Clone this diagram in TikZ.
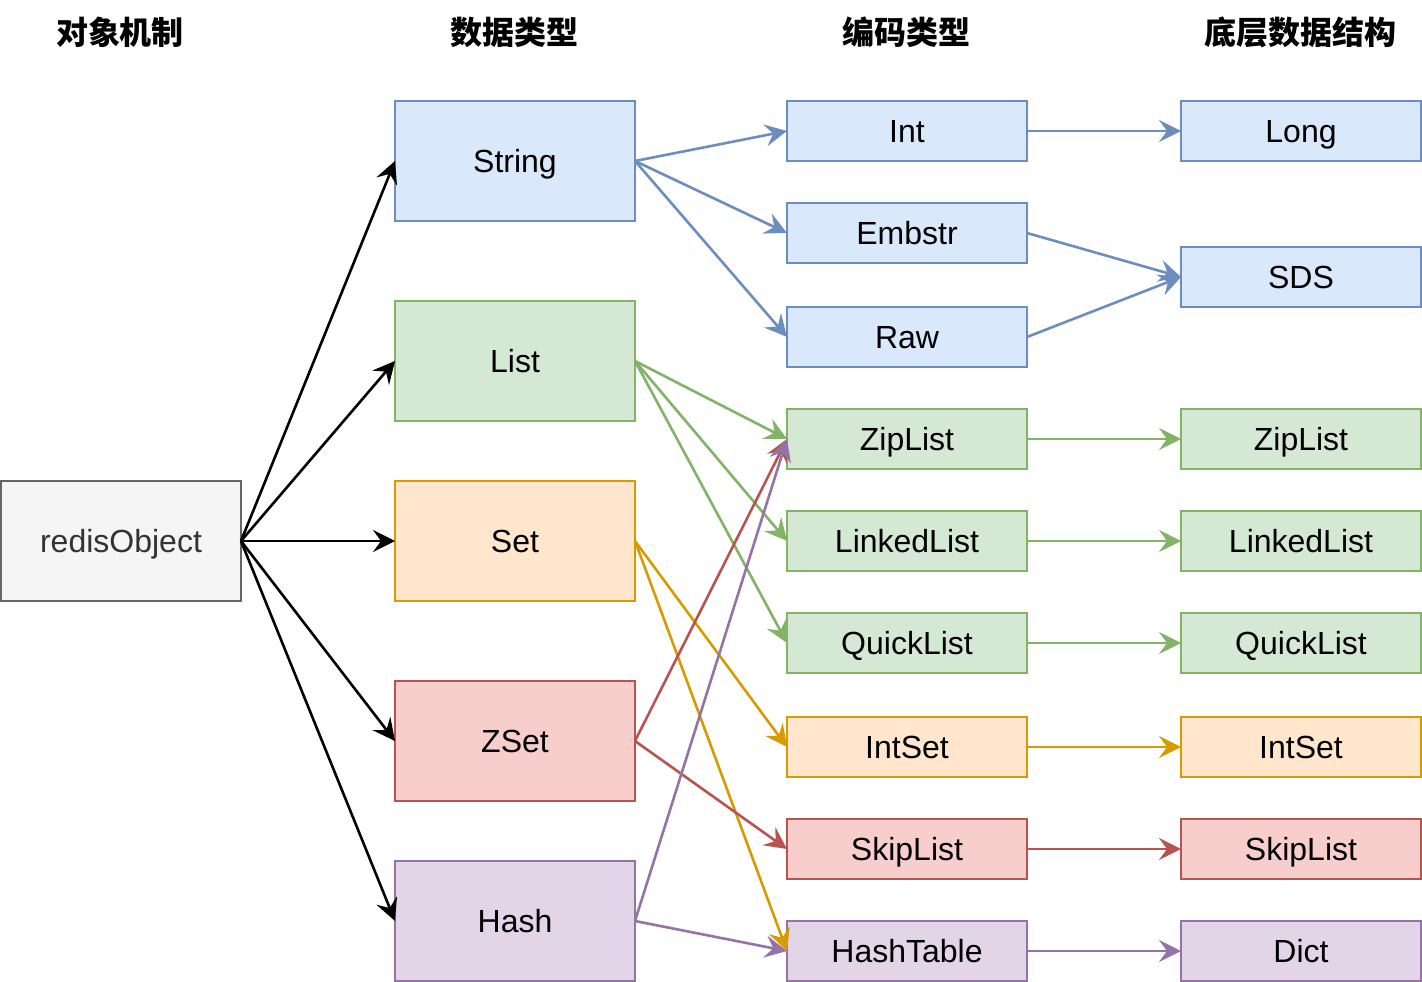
\documentclass[tikz,border=0pt]{standalone}
\usepackage{fontspec}
\setmainfont{Liberation Sans}
\newfontfamily\cjk{Noto Sans CJK SC}
\usetikzlibrary{arrows.meta}
\definecolor{blueFill}{HTML}{DAE8FC}
\definecolor{blueLine}{HTML}{6C8EBF}
\definecolor{greenFill}{HTML}{D5E8D4}
\definecolor{greenLine}{HTML}{82B366}
\definecolor{orangeFill}{HTML}{FFE6CC}
\definecolor{orangeLine}{HTML}{D79B00}
\definecolor{redFill}{HTML}{F8CECC}
\definecolor{redLine}{HTML}{B85450}
\definecolor{purpleFill}{HTML}{E1D5E7}
\definecolor{purpleLine}{HTML}{9673A6}
\definecolor{grayFill}{HTML}{F5F5F5}
\definecolor{grayLine}{HTML}{666666}
\definecolor{grayText}{HTML}{333333}

\begin{document}
\begin{tikzpicture}[x=1pt,y=-1pt,
		every node/.style={font=\fontsize{32}{38}\selectfont},
		head/.style={font=\cjk\bfseries\fontsize{32}{38}\selectfont},
		box/.style={draw,line width=2pt,outer sep=0pt,inner sep=0pt,text height=23pt,text depth=0pt,minimum width=240pt,minimum height=60pt},
		tall/.style={box,minimum height=120pt},
		bluebox/.style={fill=blueFill,draw=blueLine},
		greenbox/.style={fill=greenFill,draw=greenLine},
		orangebox/.style={fill=orangeFill,draw=orangeLine},
		redbox/.style={fill=redFill,draw=redLine},
		purplebox/.style={fill=purpleFill,draw=purpleLine},
		link/.style={line width=2.6pt,-{Stealth[length=22pt,width=22pt,inset=8pt]}}]
	\useasboundingbox (0,0) rectangle (1422,982);

	\node[head](h1) at (120,32){对象机制};
	\node[head](h2) at (514,32){数据类型};
	\node[head](h3) at (906,32){编码类型};
	\node[head](h4) at (1300,32){底层数据结构};

	\node[tall,fill=grayFill,draw=grayLine,text=grayText](obj) at (121,541){redisObject};

	\node[tall,bluebox](string) at (515,161){String};
	\node[tall,greenbox](list) at (515,361){List};
	\node[tall,orangebox](set) at (515,541){Set};
	\node[tall,redbox](zset) at (515,741){ZSet};
	\node[tall,purplebox](hash) at (515,921){Hash};

	\node[box,bluebox](int) at (907,131){Int};
	\node[box,bluebox](embstr) at (907,233){Embstr};
	\node[box,bluebox](raw) at (907,337){Raw};
	\node[box,greenbox](ziplist) at (907,439){ZipList};
	\node[box,greenbox](linkedlist) at (907,541){LinkedList};
	\node[box,greenbox](quicklist) at (907,643){QuickList};
	\node[box,orangebox](intset) at (907,747){IntSet};
	\node[box,redbox](skiplist) at (907,849){SkipList};
	\node[box,purplebox](hashtable) at (907,951){HashTable};

	\node[box,bluebox](long) at (1301,131){Long};
	\node[box,bluebox](sds) at (1301,277){SDS};
	\node[box,greenbox](zl) at (1301,439){ZipList};
	\node[box,greenbox](ll) at (1301,541){LinkedList};
	\node[box,greenbox](ql) at (1301,643){QuickList};
	\node[box,orangebox](is) at (1301,747){IntSet};
	\node[box,redbox](sl) at (1301,849){SkipList};
	\node[box,purplebox](dict) at (1301,951){Dict};

	\draw[link] (obj.east) -- (string.west);
	\draw[link] (obj.east) -- (list.west);
	\draw[link] (obj.east) -- (set.west);
	\draw[link] (obj.east) -- (zset.west);
	\draw[link] (obj.east) -- (hash.west);

	\draw[link,blueLine] (string.east) -- (int.west);
	\draw[link,blueLine] (string.east) -- (embstr.west);
	\draw[link,blueLine] (string.east) -- (raw.west);
	\draw[link,greenLine] (list.east) -- (ziplist.west);
	\draw[link,greenLine] (list.east) -- (linkedlist.west);
	\draw[link,greenLine] (list.east) -- (quicklist.west);
	\draw[link,orangeLine] (set.east) -- (intset.west);
	\draw[link,orangeLine] (set.east) -- (hashtable.west);
	\draw[link,redLine] (zset.east) -- (ziplist.west);
	\draw[link,redLine] (zset.east) -- (skiplist.west);
	\draw[link,purpleLine] (hash.east) -- (ziplist.west);
	\draw[link,purpleLine] (hash.east) -- (hashtable.west);

	\draw[link,blueLine] (int.east) -- (long.west);
	\draw[link,blueLine] (embstr.east) -- (sds.west);
	\draw[link,blueLine] (raw.east) -- (sds.west);
	\draw[link,greenLine] (ziplist.east) -- (zl.west);
	\draw[link,greenLine] (linkedlist.east) -- (ll.west);
	\draw[link,greenLine] (quicklist.east) -- (ql.west);
	\draw[link,orangeLine] (intset.east) -- (is.west);
	\draw[link,redLine] (skiplist.east) -- (sl.west);
	\draw[link,purpleLine] (hashtable.east) -- (dict.west);
\end{tikzpicture}
\end{document}
